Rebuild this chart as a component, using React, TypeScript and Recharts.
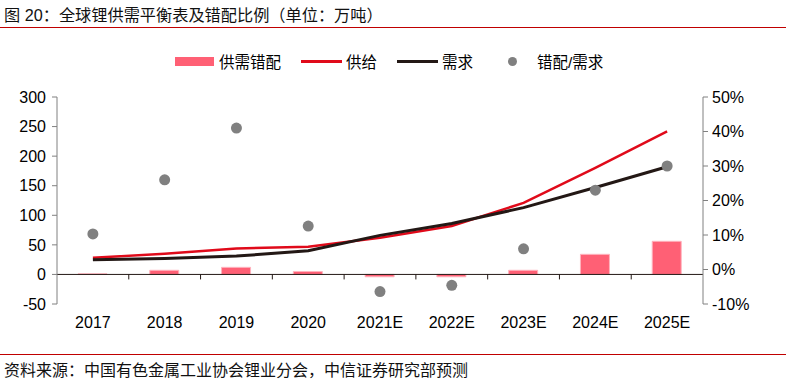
import React from 'react';
import { ComposedChart, Bar, Line, Scatter, XAxis, YAxis, ReferenceLine } from 'recharts';

const years = ['2017', '2018', '2019', '2020', '2021E', '2022E', '2023E', '2024E', '2025E'];
const mismatch = [1, 7, 12, 5, -4, -4, 7, 34, 56];
const supply = [28, 35, 44, 47, 62, 82, 121, 180, 242];
const demand = [25, 27, 31, 40, 66, 86, 113, 147, 182];
const ratio = [10.3, 26, 41, 12.6, -6.4, -4.6, 6, 23, 30];

const leftTicks = [-50, 0, 50, 100, 150, 200, 250, 300];
const rightTicks = [-10, 0, 10, 20, 30, 40, 50];

const data = years.map((y, i) => ({
  year: y,
  mismatch: mismatch[i],
  supply: supply[i],
  demand: demand[i],
  ratio: ratio[i],
}));

const BAR = '#FF6075';
const RED = '#E00A1A';
const DARK = '#231815';
const GREY = '#808080';
const NUM_FONT = '"Liberation Sans", Arial, sans-serif';
const CJK_FONT = '"Liberation Sans", "Noto Sans CJK SC", sans-serif';

// zero line with small tick marks between categories
const ZeroAxis = (p: any) => {
  const { x1, x2, y1 } = p;
  const n = years.length;
  const step = (x2 - x1) / n;
  const marks = [];
  for (let i = 1; i < n; i++) {
    const x = x1 + step * i;
    marks.push(<line key={i} x1={x} x2={x} y1={y1} y2={y1 + 5} stroke={DARK} strokeWidth={1} />);
  }
  return (
    <g>
      <line x1={x1} x2={x2} y1={y1} y2={y1} stroke={DARK} strokeWidth={1} />
      {marks}
    </g>
  );
};

const XTick = ({ x, y, payload }: any) => (
  <text x={x} y={y + 24} textAnchor="middle" fontSize={16} fontFamily={NUM_FONT} fill="#000">
    {payload.value}
  </text>
);

const Dot = ({ cx, cy }: any) => <circle cx={cx} cy={cy} r={5.5} fill={GREY} />;

const legendItem = { display: 'flex', alignItems: 'center' } as const;

export default function App() {
  return (
    <div style={{ position: 'relative', width: 786, height: 384, background: '#fff', fontFamily: CJK_FONT }}>
      <style>{'body{margin:0}'}</style>
      <div style={{ position: 'absolute', left: 4, top: 2, fontSize: 16.2, color: '#111', whiteSpace: 'nowrap' }}>
        图 20：全球锂供需平衡表及错配比例（单位：万吨）
      </div>
      <div style={{ position: 'absolute', left: 0, top: 27, width: 786, height: 1, background: '#C00000' }} />

      <div style={{ position: 'absolute', left: 175, top: 50, fontSize: 15.5, color: '#000', display: 'flex', whiteSpace: 'nowrap' }}>
        <span style={legendItem}><span style={{ width: 39, height: 9, background: BAR, display: 'inline-block', marginRight: 5 }} />供需错配</span>
        <span style={{ ...legendItem, marginLeft: 20 }}><span style={{ width: 41, height: 3, background: RED, display: 'inline-block', marginRight: 4 }} />供给</span>
        <span style={{ ...legendItem, marginLeft: 20 }}><span style={{ width: 41, height: 3, background: DARK, display: 'inline-block', marginRight: 4 }} />需求</span>
        <span style={{ ...legendItem, marginLeft: 35 }}><span style={{ width: 9, height: 9, borderRadius: 5, background: GREY, display: 'inline-block', marginRight: 20 }} />错配/需求</span>
      </div>

      <div style={{ position: 'absolute', left: 0, top: 0 }}>
        <ComposedChart width={786} height={384} data={data} margin={{ top: 97, right: 0, bottom: 50, left: 0 }}>
          <XAxis dataKey="year" axisLine={false} tickLine={false} tickSize={0} tickMargin={0} height={30} tick={<XTick />} interval={0} />
          <YAxis
            yAxisId="left"
            width={57}
            domain={[-50, 300]}
            ticks={leftTicks}
            allowDataOverflow
            axisLine={{ stroke: GREY }}
            tickLine={{ stroke: GREY }}
            tickSize={5}
            tickMargin={6}
            tick={{ fill: '#000', fontSize: 16, fontFamily: NUM_FONT }}
          />
          <YAxis
            yAxisId="right"
            orientation="right"
            width={83}
            domain={[-10, 50]}
            ticks={rightTicks}
            tickFormatter={(v: number) => `${v}%`}
            axisLine={{ stroke: GREY }}
            tickLine={{ stroke: GREY }}
            tickSize={5}
            tickMargin={4}
            tick={{ fill: '#000', fontSize: 16, fontFamily: NUM_FONT, textAnchor: 'start' }}
          />
          <Bar yAxisId="left" dataKey="mismatch" fill={BAR} stroke="#FFB3BD" strokeWidth={1} barSize={29} isAnimationActive={false} />
          <ReferenceLine yAxisId="left" y={0} shape={<ZeroAxis />} />
          <Line yAxisId="left" type="linear" dataKey="supply" stroke={RED} strokeWidth={2.5} dot={false} isAnimationActive={false} />
          <Line yAxisId="left" type="linear" dataKey="demand" stroke={DARK} strokeWidth={3} dot={false} isAnimationActive={false} />
          <Scatter yAxisId="right" dataKey="ratio" fill={GREY} shape={<Dot />} isAnimationActive={false} />
        </ComposedChart>
      </div>

      <div style={{ position: 'absolute', left: 0, top: 354, width: 786, height: 1, background: '#C00000' }} />
      <div style={{ position: 'absolute', left: 4, top: 357, fontSize: 16, color: '#111', whiteSpace: 'nowrap' }}>
        资料来源：中国有色金属工业协会锂业分会，中信证券研究部预测
      </div>
    </div>
  );
}
